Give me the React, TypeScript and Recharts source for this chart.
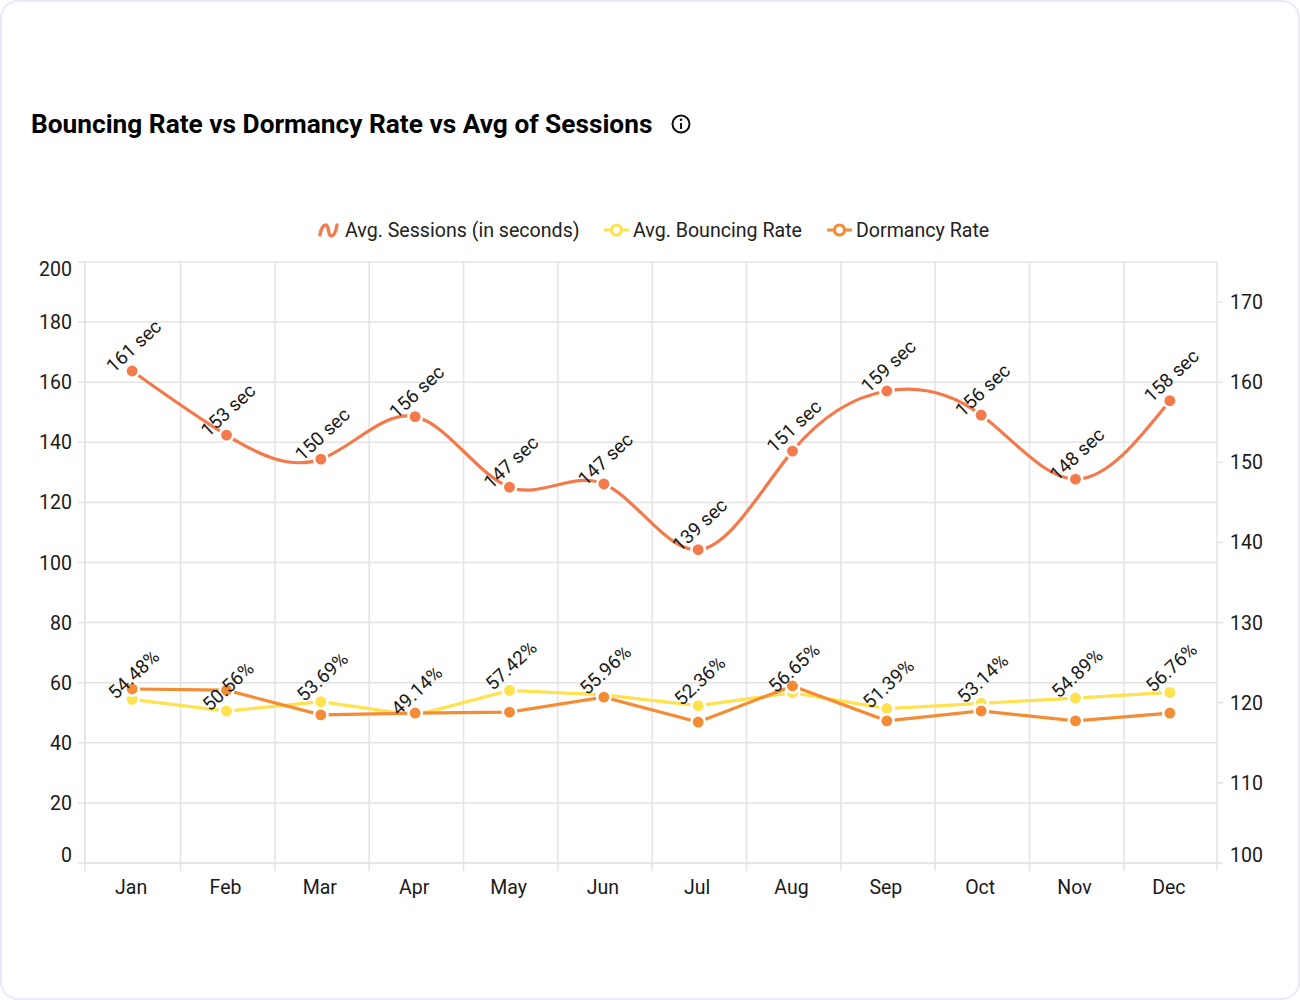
import { ComposedChart, Line, XAxis, YAxis, CartesianGrid, Legend } from 'recharts'

const months = ['Jan', 'Feb', 'Mar', 'Apr', 'May', 'Jun', 'Jul', 'Aug', 'Sep', 'Oct', 'Nov', 'Dec']
const sessions = [161.4, 153.4, 150.4, 155.7, 146.9, 147.3, 139.1, 151.4, 158.9, 155.9, 147.9, 157.7]
const bouncing = [54.48, 50.56, 53.69, 49.14, 57.42, 55.96, 52.36, 56.65, 51.39, 53.14, 54.89, 56.76]
const dormancy = [57.9, 57.5, 49.3, 49.9, 50.2, 55.2, 46.9, 58.9, 47.3, 50.6, 47.3, 49.9]
const leftTicks = [0, 20, 40, 60, 80, 100, 120, 140, 160, 180, 200]
const rightTicks = [100, 110, 120, 130, 140, 150, 160, 170]

const data = months.map((month, i) => ({
  month,
  sessions: sessions[i],
  bouncing: bouncing[i],
  dormancy: dormancy[i],
}))

const FONT = 'Roboto, sans-serif'
const GRID = '#e3e3e3'
const SESSION_COLOR = '#f47a4c'
const BOUNCE_COLOR = '#ffe24d'
const DORMANCY_COLOR = '#f48c36'
const PLOT_WIDTH = 1132
const EDGE_NUDGE = 1.2 // inner band edges sit a touch right of the even split

// x axis: label in the middle of the band, tick mark on the band edge
const MonthTick = ({ x, y, payload, index }: any) => {
  const band = PLOT_WIDTH / months.length
  const left = x - band / 2 + (index === 0 ? 0 : EDGE_NUDGE)
  return (
    <g>
      <line x1={left} x2={left} y1={y - 8} y2={y} stroke={GRID} strokeWidth={1.5} />
      {index === months.length - 1 && (
        <line x1={x + band / 2} x2={x + band / 2} y1={y - 8} y2={y} stroke={GRID} strokeWidth={1.5} />
      )}
      <text x={x - 1} y={y + 23} textAnchor="middle" fontFamily={FONT} fontSize={19.5} fill="#1a1a1a">
        {payload.value}
      </text>
    </g>
  )
}

// first and last labels are pulled inside the plot area
const ValueTick = ({ x, y, payload, side, min, max }: any) => {
  let shift = 0
  if (payload.value === min) shift = -8
  if (payload.value === max) shift = 7
  const isLeft = side === 'left'
  return (
    <g>
      <line
        x1={isLeft ? x + 1 : x - 8}
        x2={isLeft ? x + 8 : x - 2}
        y1={y}
        y2={y}
        stroke={GRID}
        strokeWidth={1.5}
      />
      <text
        x={isLeft ? x - 5 : x + 5}
        y={y + shift + 0.2}
        dy="0.35em"
        textAnchor={isLeft ? 'end' : 'start'}
        fontFamily={FONT}
        fontSize={19.5}
        fill="#1a1a1a"
      >
        {payload.value}
      </text>
    </g>
  )
}

const slantedLabel = (suffix: string, digits: number) => ({ x, y, value }: any) => {
  const cx = x + 1.5
  const cy = y - 25
  return (
    <text
      x={cx}
      y={cy}
      dy="0.35em"
      transform={`rotate(-43 ${cx} ${cy})`}
      textAnchor="middle"
      fontFamily={FONT}
      fontSize={19}
      fill="#1a1a1a"
    >
      {Number(value).toFixed(digits)}
      {suffix}
    </text>
  )
}

const LineIcon = ({ color }: { color: string }) => (
  <svg width={25} height={16} style={{ display: 'block' }}>
    <line x1={0} x2={25} y1={8} y2={8} stroke={color} strokeWidth={3.2} />
    <circle cx={12.5} cy={8} r={5} fill="#fff" stroke={color} strokeWidth={3.2} />
  </svg>
)

const SplineIcon = ({ color }: { color: string }) => (
  <svg width={22} height={18} style={{ display: 'block' }}>
    <path
      d="M2 13 C3 7 5 3 8 3 C11 3 10 14 13 14 C16 14 18 9 19 3"
      fill="none"
      stroke={color}
      strokeWidth={3.4}
      strokeLinecap="round"
    />
  </svg>
)

const legendItems = [
  { name: 'Avg. Sessions (in seconds)', icon: <SplineIcon color={SESSION_COLOR} />, left: 318, textLeft: 345 },
  { name: 'Avg. Bouncing Rate', icon: <LineIcon color={BOUNCE_COLOR} />, left: 604, textLeft: 633 },
  { name: 'Dormancy Rate', icon: <LineIcon color={DORMANCY_COLOR} />, left: 827, textLeft: 856 },
]

const ChartLegend = () => (
  <div style={{ position: 'relative', width: 1300, height: 30 }}>
    {legendItems.map((item) => (
      <div key={item.name}>
        <div style={{ position: 'absolute', left: item.left, top: 7 }}>{item.icon}</div>
        <div
          style={{
            position: 'absolute',
            left: item.textLeft,
            top: 3,
            fontFamily: FONT,
            fontSize: 19.6,
            lineHeight: '26px',
            color: '#222',
            whiteSpace: 'nowrap',
          }}
        >
          {item.name}
        </div>
      </div>
    ))}
  </div>
)

const dotStyle = (color: string) => ({ r: 6.7, fill: color, stroke: '#fff', strokeWidth: 2.5 })

export default function App() {
  return (
    <div
      style={{
        position: 'absolute',
        left: 0,
        top: 0,
        width: 1300,
        height: 1000,
        boxSizing: 'border-box',
        background: '#fff',
        border: '2px solid #e9e9f8',
        borderRadius: 18,
        overflow: 'hidden',
      }}
    >
      <div
        style={{
          position: 'absolute',
          left: 29,
          top: 105,
          fontFamily: FONT,
          fontWeight: 700,
          fontSize: 26.25,
          lineHeight: '34px',
          color: '#000',
          whiteSpace: 'nowrap',
        }}
      >
        Bouncing Rate vs Dormancy Rate vs Avg of Sessions
      </div>
      <svg width={22} height={22} style={{ position: 'absolute', left: 668, top: 111 }}>
        <circle cx={11} cy={11} r={8.5} fill="none" stroke="#111" strokeWidth={2} />
        <line x1={11} x2={11} y1={10} y2={16} stroke="#111" strokeWidth={2} />
        <circle cx={11} cy={6.8} r={1.3} fill="#111" />
      </svg>
      <div style={{ position: 'absolute', left: -2, top: -2 }}>
        <ComposedChart
          width={1300}
          height={1000}
          data={data}
          margin={{ top: 232, right: 0, bottom: 0, left: 0 }}
        >
          <CartesianGrid
            yAxisId="left"
            stroke={GRID}
            strokeWidth={1.5}
            verticalCoordinatesGenerator={({ offset }: any) =>
              months.map((_, i) => offset.left + (i * offset.width) / months.length + (i === 0 ? 0 : EDGE_NUDGE))
            }
          />
          <Legend
            verticalAlign="top"
            height={30}
            content={<ChartLegend />}
            wrapperStyle={{ left: 0, top: 215, width: 1300 }}
          />
          <XAxis
            dataKey="month"
            scale="band"
            height={137}
            interval={0}
            axisLine={{ stroke: GRID, strokeWidth: 1.5 }}
            tickLine={false}
            tick={<MonthTick />}
          />
          <YAxis
            yAxisId="left"
            width={85}
            domain={[0, 200]}
            ticks={leftTicks}
            interval={0}
            axisLine={{ stroke: GRID, strokeWidth: 1.5 }}
            tickLine={false}
            tick={<ValueTick side="left" min={0} max={200} />}
          />
          <YAxis
            yAxisId="right"
            orientation="right"
            width={83}
            domain={[100, 175]}
            ticks={rightTicks}
            interval={0}
            axisLine={{ stroke: GRID, strokeWidth: 1.5 }}
            tickLine={false}
            tick={<ValueTick side="right" min={100} max={175} />}
          />
          <Line
            yAxisId="right"
            type="natural"
            dataKey="sessions"
            stroke={SESSION_COLOR}
            strokeWidth={3.2}
            dot={dotStyle(SESSION_COLOR)}
            label={slantedLabel(' sec', 0)}
            isAnimationActive={false}
          />
          <Line
            yAxisId="left"
            type="linear"
            dataKey="bouncing"
            stroke={BOUNCE_COLOR}
            strokeWidth={3.2}
            dot={dotStyle(BOUNCE_COLOR)}
            label={slantedLabel('%', 2)}
            isAnimationActive={false}
          />
          <Line
            yAxisId="left"
            type="linear"
            dataKey="dormancy"
            stroke={DORMANCY_COLOR}
            strokeWidth={3.2}
            dot={dotStyle(DORMANCY_COLOR)}
            isAnimationActive={false}
          />
        </ComposedChart>
      </div>
    </div>
  )
}
